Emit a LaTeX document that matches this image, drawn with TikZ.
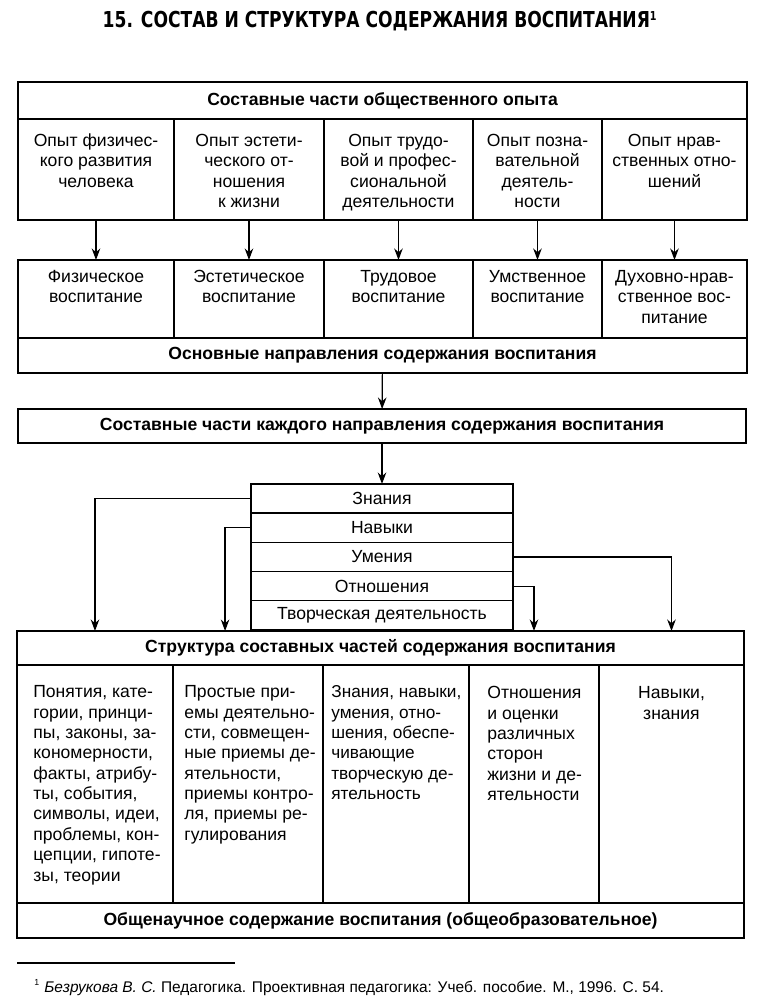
\documentclass[tikz,border=0pt]{standalone}
\usepackage{fontspec}
\setmainfont{Liberation Sans}
\newfontfamily\titlefont{DejaVu Sans}
\usetikzlibrary{arrows.meta,positioning,calc}
\tikzset{cell/.style={draw,line width=1.1pt,inner sep=0pt,outer sep=0pt}}
\tikzset{row/.style={draw,line width=0.8pt,inner sep=0pt,outer sep=0pt,minimum width=5.24cm,minimum height=0.584cm,font=\fontsize{10}{12}\selectfont}}
\tikzset{head/.style={cell,font=\fontsize{10}{12}\selectfont\bfseries}}
\tikzset{txt/.style={inner sep=0pt,align=center,font=\fontsize{10}{11.6}\selectfont}}
\tikzset{ltxt/.style={txt,align=left}}
\tikzset{arr/.style={line width=0.7pt,-{Stealth[length=2.3mm,width=1.7mm]}}}

\begin{document}
\begin{tikzpicture}[x=0.02cm,y=-0.02cm]
    \useasboundingbox (0,0) rectangle (768,1007);
    \node[anchor=base] (title) at (380,28)
        {\scalebox{0.78}[1]{\titlefont\fontsize{12.5}{14}\selectfont\bfseries 15. СОСТАВ И СТРУКТУРА СОДЕРЖАНИЯ ВОСПИТАНИЯ\textsuperscript{\fontsize{7}{8}\selectfont 1}}};

    \node[head,minimum width=14.58cm,minimum height=0.74cm] (h1) at (382.5,100.5) {Составные части общественного опыта};
    \node[cell,anchor=north west,minimum width=3.12cm,minimum height=2.02cm] (o1) at (18,119) {};
    \node[cell,anchor=north west,minimum width=3.0cm,minimum height=2.02cm] (o2) at (174,119) {};
    \node[cell,anchor=north west,minimum width=2.98cm,minimum height=2.02cm] (o3) at (324,119) {};
    \node[cell,anchor=north west,minimum width=2.58cm,minimum height=2.02cm] (o4) at (473,119) {};
    \node[cell,anchor=north west,minimum width=2.9cm,minimum height=2.02cm] (o5) at (602,119) {};
    \node[txt,below=0.26cm of o1.north] (to1) {\strut Опыт физичес-\\кого развития\\человека};
    \node[txt,below=0.26cm of o2.north] (to2) {\strut Опыт эстети-\\ческого от-\\ношения\\к жизни};
    \node[txt,below=0.26cm of o3.north] (to3) {\strut Опыт трудо-\\вой и профес-\\сиональной\\деятельности};
    \node[txt,below=0.26cm of o4.north] (to4) {\strut Опыт позна-\\вательной\\деятель-\\ности};
    \node[txt,below=0.26cm of o5.north] (to5) {\strut Опыт нрав-\\ственных отно-\\шений};

    \node[cell,anchor=north west,minimum width=3.12cm,minimum height=1.56cm] (v1) at (18,260) {};
    \node[cell,anchor=north west,minimum width=3.0cm,minimum height=1.56cm] (v2) at (174,260) {};
    \node[cell,anchor=north west,minimum width=2.98cm,minimum height=1.56cm] (v3) at (324,260) {};
    \node[cell,anchor=north west,minimum width=2.58cm,minimum height=1.56cm] (v4) at (473,260) {};
    \node[cell,anchor=north west,minimum width=2.9cm,minimum height=1.56cm] (v5) at (602,260) {};
    \node[txt,below=0.16cm of v1.north] (tv1) {\strut Физическое\\воспитание};
    \node[txt,below=0.16cm of v2.north] (tv2) {\strut Эстетическое\\воспитание};
    \node[txt,below=0.16cm of v3.north] (tv3) {\strut Трудовое\\воспитание};
    \node[txt,below=0.16cm of v4.north] (tv4) {\strut Умственное\\воспитание};
    \node[txt,below=0.16cm of v5.north] (tv5) {\strut Духовно-нрав-\\ственное вос-\\питание};
    \node[head,minimum width=14.58cm,minimum height=0.7cm] (h2) at (382.5,355.5) {Основные направления содержания воспитания};

    \draw[arr] (o1) -- (v1);
    \draw[arr] (o2) -- (v2);
    \draw[arr] (o3) -- (v3);
    \draw[arr] (o4) -- (v4);
    \draw[arr] (o5) -- (v5);

    \node[head,minimum width=14.56cm,minimum height=0.68cm] (h3) at (382,426) {Составные части каждого направления содержания воспитания};
    \draw[arr] (h2) -- (h3);

    \node[row,anchor=north] (k1) at (382,484) {Знания};
    \node[row,below=0pt of k1] (k2) {Навыки};
    \node[row,below=0pt of k2] (k3) {Умения};
    \node[row,below=0pt of k3] (k4) {Отношения};
    \node[row,below=0pt of k4] (k5) {Творческая деятельность};
    \draw[arr] (h3) -- (k1);

    \node[head,minimum width=14.54cm,minimum height=0.68cm] (hs) at (380.5,648) {Структура составных частей содержания воспитания};
    \node[cell,anchor=north west,minimum width=3.12cm,minimum height=4.76cm] (c1) at (17,665) {};
    \node[cell,anchor=north west,minimum width=3.0cm,minimum height=4.76cm] (c2) at (173,665) {};
    \node[cell,anchor=north west,minimum width=2.92cm,minimum height=4.76cm] (c3) at (323,665) {};
    \node[cell,anchor=north west,minimum width=2.6cm,minimum height=4.76cm] (c4) at (469,665) {};
    \node[cell,anchor=north west,minimum width=2.9cm,minimum height=4.76cm] (c5) at (599,665) {};
    \node[ltxt,below right=0.36cm and 0.32cm of c1.north west] (tc1) {\strut Понятия, кате-\\гории, принци-\\пы, законы, за-\\кономерности,\\факты, атрибу-\\ты, события,\\символы, идеи,\\проблемы, кон-\\цепции, гипоте-\\зы, теории};
    \node[ltxt,below right=0.36cm and 0.22cm of c2.north west] (tc2) {\strut Простые при-\\емы деятельно-\\сти, совмещен-\\ные приемы де-\\ятельности,\\приемы контро-\\ля, приемы ре-\\гулирования};
    \node[ltxt,below right=0.36cm and 0.16cm of c3.north west,font=\fontsize{9.8}{11.6}\selectfont] (tc3) {\strut Знания, навыки,\\умения, отно-\\шения, обеспе-\\чивающие\\творческую де-\\ятельность};
    \node[ltxt,below right=0.38cm and 0.36cm of c4.north west] (tc4) {\strut Отношения\\и оценки\\различных\\сторон\\жизни и де-\\ятельности};
    \node[txt,below=0.38cm of c5.north] (tc5) {\strut Навыки,\\знания};
    \node[head,minimum width=14.54cm,minimum height=0.7cm] (hb) at (380.5,920.5) {Общенаучное содержание воспитания (общеобразовательное)};

    \draw[arr] (k1.west) -| (c1.center |- hs.north);
    \draw[arr] (k2.west) -| ($(hs.north west)+(208,0)$);
    \draw[arr] (k3.east) -| (c5.center |- hs.north);
    \draw[arr] (k4.east) -| (c4.center |- hs.north);

    \draw[line width=0.8pt] (17,963) -- (235,963);
    \node[anchor=base west,inner sep=0pt,font=\fontsize{8.8}{10}\selectfont] (fn) at (34,992)
        {\textsuperscript{\fontsize{5}{6}\selectfont 1} \textit{Безрукова В. С.} Педагогика. Проективная педагогика: Учеб. пособие. М., 1996. С. 54.};
\end{tikzpicture}
\end{document}
